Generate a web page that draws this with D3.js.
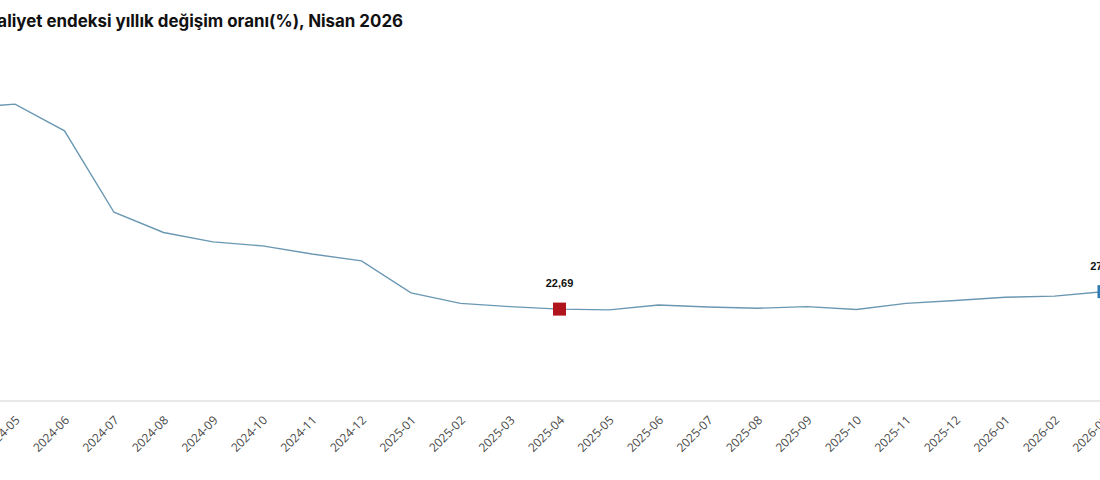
<!DOCTYPE html>
<html>
<head>
<meta charset="utf-8">
<script src="https://cdn.jsdelivr.net/npm/d3@7"></script>
<style>
	body { margin: 0; background: #fff; overflow: hidden; }
	svg { display: block; }
</style>
</head>
<body>
<svg id="chart" width="1100" height="480"></svg>
<script>
// months shown on the axis (the chart is cropped on both sides)
const months = ["2024-04", "2024-05", "2024-06", "2024-07", "2024-08", "2024-09", "2024-10",
	"2024-11", "2024-12", "2025-01", "2025-02", "2025-03", "2025-04", "2025-05", "2025-06",
	"2025-07", "2025-08", "2025-09", "2025-10", "2025-11", "2025-12", "2026-01", "2026-02", "2026-03"];
// yearly change (%)
const values = [72.4, 73.3, 66.7, 46.6, 41.6, 39.3, 38.3, 36.3, 34.6, 26.7, 24.1, 23.3, 22.69,
	22.5, 23.7, 23.2, 22.9, 23.3, 22.6, 24.1, 24.8, 25.6, 25.9, 27.0];
const highlights = [
	{ month: "2025-04", label: "22,69", color: "#b0141c" },
	{ month: "2026-03", label: "27,00", color: "#2b7bb5" }
];
const title = "İnşaat maliyet endeksi yıllık değişim oranı(%), Nisan 2026";

const svg = d3.select("#chart");
const data = months.map((m, i) => ({ m: m, v: values[i] }));

let x = d3.scalePoint()
	.domain(months)
	.range([-34.5, 1104]);

let y = d3.scaleLinear()
	.domain([0, 80])
	.range([401, 401 - 80 * 4.05]);

// title
svg.append("text")
	.attr("x", 403).attr("y", 27)
	.attr("text-anchor", "end")
	.attr("font-family", "Inter, 'Noto Sans', sans-serif")
	.attr("font-weight", 700)
	.attr("font-size", 16.9)
	.attr("fill", "#111")
	.text(title);

// x axis
const xAxis = d3.axisBottom(x).tickSize(0).tickPadding(0);
const gx = svg.append("g").attr("transform", "translate(0,401)").call(xAxis);
gx.select(".domain").attr("stroke", "#e0e0e0").attr("stroke-width", 1.5)
	.attr("d", "M-50,0H1150");
gx.selectAll(".tick text")
	.attr("font-family", "'Open Sans', 'Noto Sans', sans-serif")
	.attr("font-size", 12)
	.attr("fill", "#4a4a4a")
	.attr("text-anchor", "end")
	.attr("dy", 0)
	.attr("y", 0)
	.attr("transform", "translate(5,20) rotate(-45)");

// line
const line = d3.line()
	.x(d => x(d.m))
	.y(d => y(d.v));

svg.append("path")
	.attr("d", line(data))
	.attr("fill", "none")
	.attr("stroke", "#6a98b2")
	.attr("stroke-width", 1.4);

// highlighted points
highlights.forEach(h => {
	const d = data.find(e => e.m === h.month);
	const cx = x(d.m), cy = y(d.v);
	svg.append("rect")
		.attr("x", cx - 6.5).attr("y", cy - 6.5)
		.attr("width", 13).attr("height", 13)
		.attr("fill", h.color);
	svg.append("text")
		.attr("x", cx).attr("y", cy - 22)
		.attr("text-anchor", "middle")
		.attr("font-family", "'Liberation Sans', Arial, sans-serif")
		.attr("font-weight", 700)
		.attr("font-size", 11)
		.attr("fill", "#111")
		.text(h.label);
});
</script>
</body>
</html>
